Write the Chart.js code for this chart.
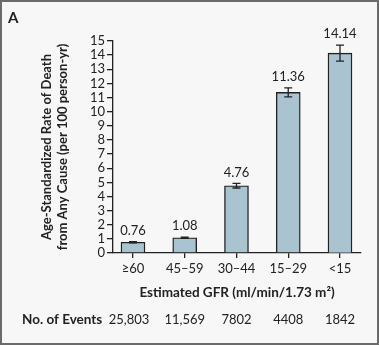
<!DOCTYPE html>
<html>
<head>
<meta charset="utf-8">
<script src="https://cdn.jsdelivr.net/npm/chart.js@4"></script>
<style>
  html, body { margin: 0; padding: 0; background: #fff; }
  #wrap {
    position: relative;
    width: 379px; height: 345px;
    box-sizing: border-box;
    border: 2px solid #6b6b6b;
    background: #f7f7f7;
  }
  #chart { position: absolute; left: -2px; top: -2px; }
</style>
</head>
<body>
<div id="wrap"><canvas id="chart" width="379" height="345"></canvas></div>
<script>
(function() {
    'use strict';

    // data
    const gfrLabels = ['\u226560', '45\u201359', '30\u201344', '15\u201329', '<15'];
    const deathRates = [0.76, 1.08, 4.76, 11.36, 14.14];
    const ciLower = [0.72, 1.03, 4.60, 11.04, 13.57];
    const ciUpper = [0.80, 1.13, 4.92, 11.68, 14.71];
    const rateLabels = ['0.76', '1.08', '4.76', '11.36', '14.14'];
    const eventCounts = ['25,803', '11,569', '7802', '4408', '1842'];
    const yMin = 0, yMax = 15, yStep = 1;

    const ink = '#222';
    const fontFam = 'Lato, "Open Sans", sans-serif';

    // error bars, value labels, events row, panel letter
    const extras = {
        id: 'extras',
        afterDatasetsDraw(chart) {
            const ctx = chart.ctx;
            const xs = chart.scales.x, ys = chart.scales.y;
            ctx.save();
            ctx.strokeStyle = ink;
            ctx.lineWidth = 1.3;
            deathRates.forEach((v, i) => {
                const x = xs.getPixelForValue(i);
                const yLo = ys.getPixelForValue(ciLower[i]);
                const yHi = ys.getPixelForValue(ciUpper[i]);
                ctx.beginPath();
                ctx.moveTo(x, yLo); ctx.lineTo(x, yHi);
                ctx.moveTo(x - 4, yLo); ctx.lineTo(x + 4, yLo);
                ctx.moveTo(x - 4, yHi); ctx.lineTo(x + 4, yHi);
                ctx.stroke();

                ctx.fillStyle = ink;
                ctx.font = '13px ' + fontFam;
                ctx.textAlign = 'center';
                ctx.textBaseline = 'middle';
                ctx.fillText(rateLabels[i], x, yHi - 11);

                ctx.fillText(eventCounts[i], x - (i === 0 ? 4 : 0), 320);
            });

            ctx.font = 'bold 13.5px ' + fontFam;
            ctx.textAlign = 'left';
            ctx.fillText('No. of Events', 22, 320);

            ctx.font = 'bold 15px ' + fontFam;
            ctx.fillText('A', 8, 18);
            ctx.restore();
        }
    };

    new Chart(document.getElementById('chart').getContext('2d'), {
        type: 'bar',
        data: {
            datasets: [{
                data: deathRates.map((v, i) => ({ x: i, y: v })),
                backgroundColor: '#a9c3d1',
                borderColor: ink,
                borderWidth: 1.4,
                barThickness: 24
            }]
        },
        options: {
            responsive: false,
            animation: false,
            layout: { padding: { left: 0, top: 41, right: 18, bottom: 42 } },
            plugins: { legend: { display: false }, tooltip: { enabled: false } },
            scales: {
                x: {
                    type: 'linear',
                    offset: false,
                    min: -0.386,
                    max: 4.406,
                    afterFit(scale) { scale.height = 50; },
                    border: { display: true, color: ink, width: 1.3 },
                    grid: { offset: false, drawOnChartArea: false, drawTicks: true, tickLength: 5, color: ink, lineWidth: 1.3 },
                    ticks: {
                        stepSize: 1,
                        includeBounds: false,
                        autoSkip: false,
                        maxRotation: 0,
                        padding: 3,
                        color: ink,
                        font: { family: fontFam, size: 13 },
                        callback: (v) => gfrLabels[v] !== undefined ? gfrLabels[v] : ''
                    },
                    title: {
                        display: true,
                        text: 'Estimated GFR (ml/min/1.73 m\u00b2)',
                        color: ink,
                        font: { family: fontFam, size: 13.5, weight: 'bold', lineHeight: 1.2 },
                        padding: { top: 0, bottom: 2 }
                    }
                },
                y: {
                    min: yMin,
                    max: yMax,
                    afterFit(scale) { scale.width = 113; },
                    border: { display: true, color: ink, width: 1.3 },
                    grid: { drawOnChartArea: false, drawTicks: true, tickLength: 6, color: ink, lineWidth: 1.3 },
                    ticks: {
                        stepSize: yStep,
                        autoSkip: false,
                        padding: 2,
                        color: ink,
                        font: { family: fontFam, size: 13 }
                    },
                    title: {
                        display: true,
                        text: ['Age-Standardized Rate of Death', 'from Any Cause (per 100 person-yr)'],
                        color: ink,
                        font: { family: fontFam, size: 13, weight: 'bold', lineHeight: 1.22 },
                        padding: { top: 39, bottom: 0 }
                    }
                }
            }
        },
        plugins: [extras]
    });
})();
</script>
</body>
</html>
